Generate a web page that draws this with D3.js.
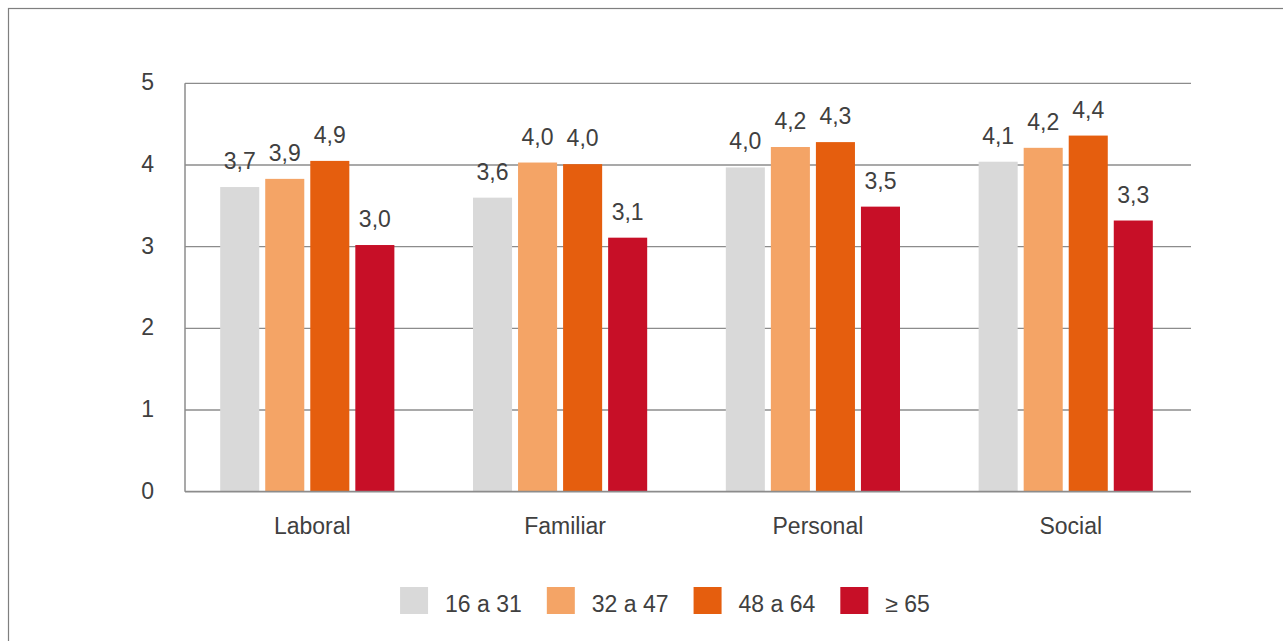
<!DOCTYPE html>
<html><head><meta charset="utf-8">
<script src="https://cdn.jsdelivr.net/npm/d3@7"></script>
<style>
html,body{margin:0;padding:0;background:#fff;}
svg{display:block;font-family:"Liberation Sans",Arial,sans-serif;}
</style></head>
<body><svg id="c" width="1283" height="641"></svg>
<script>
const categories = ["Laboral", "Familiar", "Personal", "Social"];
const seriesNames = ["16 a 31", "32 a 47", "48 a 64", "≥ 65"];
const s16a31 = [3.73, 3.60, 3.97, 4.04];
const s32a47 = [3.83, 4.03, 4.22, 4.21];
const s48a64 = [4.05, 4.01, 4.28, 4.36];
const s65 = [3.02, 3.11, 3.49, 3.32];
const lbl16a31 = ["3,7", "3,6", "4,0", "4,1"];
const lbl32a47 = ["3,9", "4,0", "4,2", "4,2"];
const lbl48a64 = ["4,9", "4,0", "4,3", "4,4"];
const lbl65 = ["3,0", "3,1", "3,5", "3,3"];
const yTicks = [0, 1, 2, 3, 4, 5];

const seriesValues = [s16a31, s32a47, s48a64, s65];
const seriesLabels = [lbl16a31, lbl32a47, lbl48a64, lbl65];
const colors = ["#D9D9D9", "#F4A466", "#E55E0E", "#C70F27"];
const textColor = "#404040";
const fs = 23;

const svg = d3.select("#c");

// outer frame
svg.append("rect").attr("x", 8.5).attr("y", 8.5).attr("width", 1400).attr("height", 800)
  .attr("fill", "none").attr("stroke", "#7f7f7f").attr("stroke-width", 1.2);

const plotL = 185, plotR = 1191;
const y = d3.scaleLinear().domain([0, 5]).range([491.7, 83.3]);
const x0 = d3.scaleBand().domain(categories).range([181, 1192]).paddingInner(0.311).paddingOuter(0.155);
const x1 = d3.scaleBand().domain(seriesNames).range([0, x0.bandwidth()]).paddingInner(0.133);

// gridlines
svg.append("g").selectAll("line").data(yTicks.filter(t => t > 0)).join("line")
  .attr("x1", plotL).attr("x2", plotR)
  .attr("y1", d => y(d)).attr("y2", d => y(d))
  .attr("stroke", "#8c8c8c").attr("stroke-width", 1.3);

// y tick labels
svg.append("g").selectAll("text").data(yTicks).join("text")
  .attr("x", 154).attr("y", d => y(d)).attr("dy", "0.3em")
  .attr("text-anchor", "end").attr("font-size", fs).attr("fill", textColor)
  .text(d => d);

// bars
const rows = [];
categories.forEach((c, ci) => seriesNames.forEach((s, si) => rows.push({c, s, si, v: seriesValues[si][ci], l: seriesLabels[si][ci]})));

svg.append("g").selectAll("rect").data(rows).join("rect")
  .attr("x", d => x0(d.c) + x1(d.s)).attr("width", x1.bandwidth())
  .attr("y", d => y(d.v)).attr("height", d => y(0) - y(d.v))
  .attr("fill", d => colors[d.si]);

// value labels
svg.append("g").selectAll("text").data(rows).join("text")
  .attr("x", d => x0(d.c) + x1(d.s) + x1.bandwidth() / 2)
  .attr("y", d => y(d.v) - 18)
  .attr("text-anchor", "middle").attr("font-size", fs).attr("fill", textColor)
  .text(d => d.l);

// axes lines
svg.append("line").attr("x1", plotL).attr("x2", plotL).attr("y1", y(5)).attr("y2", y(0))
  .attr("stroke", "#8c8c8c").attr("stroke-width", 1.5);
svg.append("line").attr("x1", plotL).attr("x2", plotR).attr("y1", y(0)).attr("y2", y(0))
  .attr("stroke", "#8c8c8c").attr("stroke-width", 1.8);

// category labels
svg.append("g").selectAll("text").data(categories).join("text")
  .attr("x", d => x0(d) + x0.bandwidth() / 2 + 5).attr("y", y(0) + 42)
  .attr("text-anchor", "middle").attr("font-size", fs).attr("fill", textColor)
  .text(d => d);

// legend
const lg = svg.append("g");
const items = lg.selectAll("g").data(seriesNames).join("g");
items.append("rect").attr("width", 28).attr("height", 27).attr("y", 587)
  .attr("fill", (d, i) => colors[i]);
items.append("text").attr("y", 612).attr("font-size", fs).attr("fill", textColor).text(d => d);
let widths = [];
items.select("text").each(function () { widths.push(this.getComputedTextLength()); });
const gapSq = 17, gapItem = 25;
const total = d3.sum(widths) + widths.length * (28 + gapSq) + (widths.length - 1) * gapItem;
let cx = 665 - total / 2;
items.each(function (d, i) {
  const g = d3.select(this);
  g.select("rect").attr("x", cx);
  g.select("text").attr("x", cx + 28 + gapSq);
  cx += 28 + gapSq + widths[i] + gapItem;
});
</script></body></html>
